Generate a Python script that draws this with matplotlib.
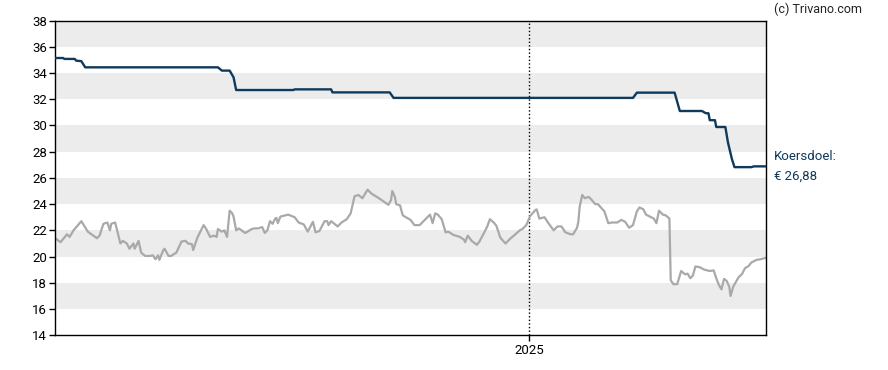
import matplotlib
matplotlib.use("Agg")
import matplotlib.pyplot as plt
import matplotlib.dates as mdates
import pandas as pd
import numpy as np

plt.rcParams['font.family'] = ['Roboto', 'DejaVu Sans']

start_date = "2024-01-03"
span_days = 546
year_tick = "2025-01-01"
year_label = "2025"

# Share price: day offsets from start_date and closing values (EUR)
price_days = [0, 4, 9, 11, 14, 20, 25, 32, 34, 37, 40, 42, 43, 46, 50, 52, 55, 57, 60, 61,
              64, 66, 69, 73, 75, 77, 79, 80, 83, 84, 87, 89, 93, 97, 100, 102, 105, 106, 109, 111,
              114, 116, 119, 122, 124, 125, 128, 130, 132, 134, 136, 137, 139, 141, 146, 151, 153, 156, 159, 161,
              163, 165, 167, 169, 170, 171, 173, 179, 184, 187, 191, 194, 198, 200, 203, 207, 209, 210, 212, 217,
              220, 224, 227, 230, 233, 236, 240, 243, 248, 253, 256, 258, 259, 261, 262, 265, 267, 270, 273, 276,
              280, 284, 288, 290, 292, 294, 297, 300, 302, 306, 311, 314, 315, 317, 320, 324, 326, 330, 332, 334,
              337, 339, 342, 346, 350, 353, 357, 359, 362, 365, 369, 370, 372, 376, 379, 383, 386, 389, 392, 396,
              398, 401, 402, 403, 405, 407, 410, 412, 415, 417, 422, 425, 428, 432, 435, 438, 441, 444, 447, 449,
              452, 454, 457, 460, 462, 464, 467, 469, 472, 473, 475, 478, 481, 484, 486, 488, 490, 492, 495, 499,
              503, 506, 508, 510, 512, 514, 516, 518, 519, 521, 525, 528, 530, 533, 535, 539, 542, 546]
price_vals = [21.4, 21.1, 21.7, 21.5, 22.0, 22.7, 21.9, 21.4, 21.6, 22.5, 22.6, 22.0, 22.5, 22.6, 21.0, 21.2, 21.0, 20.6, 21.0, 20.6,
              21.2, 20.3, 20.05, 20.05, 20.1, 19.8, 20.1, 19.75, 20.5, 20.6, 20.05, 20.05, 20.3, 21.15, 21.2, 21.0, 20.95, 20.5, 21.4, 21.8,
              22.4, 22.1, 21.5, 21.6, 21.5, 22.1, 21.9, 22.0, 21.5, 23.5, 23.3, 23.05, 22.0, 22.15, 21.8, 22.1, 22.15, 22.15, 22.25, 21.8,
              22.0, 22.7, 22.5, 22.9, 22.95, 22.55, 23.05, 23.2, 23.0, 22.6, 22.45, 21.9, 22.65, 21.85, 21.95, 22.7, 22.7, 22.4, 22.7, 22.3,
              22.6, 22.85, 23.3, 24.6, 24.7, 24.45, 25.1, 24.8, 24.5, 24.15, 23.95, 24.3, 25.0, 24.55, 24.0, 23.9, 23.15, 22.97, 22.8, 22.4,
              22.4, 22.8, 23.2, 22.55, 23.3, 23.2, 22.85, 21.85, 21.9, 21.65, 21.5, 21.3, 21.1, 21.6, 21.2, 20.9, 21.15, 21.9, 22.3, 22.85,
              22.6, 22.35, 21.45, 21.0, 21.4, 21.65, 22.0, 22.1, 22.4, 23.1, 23.55, 23.6, 22.9, 23.0, 22.55, 22.0, 22.3, 22.3, 21.85, 21.7,
              21.7, 22.2, 22.65, 23.8, 24.7, 24.45, 24.55, 24.35, 24.0, 24.0, 23.45, 22.55, 22.6, 22.6, 22.8, 22.65, 22.2, 22.4, 23.45, 23.75,
              23.6, 23.2, 23.05, 22.9, 22.55, 23.5, 23.2, 23.15, 22.9, 18.2, 17.9, 17.9, 18.9, 18.65, 18.7, 18.35, 18.55, 19.25, 19.2, 19.0,
              18.9, 18.95, 18.35, 17.85, 17.5, 18.3, 18.15, 17.7, 17.0, 17.7, 18.4, 18.7, 19.1, 19.3, 19.55, 19.75, 19.8, 19.9]

# Analyst price target (Koersdoel)
target_days = [0, 6, 7, 15, 16, 20, 23, 125, 128, 134, 137, 139, 183, 184, 212, 213, 257, 260, 444, 447,
               476, 480, 497, 500, 502, 503, 507, 508, 515, 517, 520, 522, 535, 537, 546]
target_vals = [35.14, 35.14, 35.07, 35.07, 34.94, 34.9, 34.43, 34.43, 34.18, 34.18, 33.67, 32.7, 32.7, 32.75, 32.75, 32.52, 32.52, 32.1, 32.1, 32.5,
               32.5, 31.1, 31.1, 30.93, 30.93, 30.4, 30.4, 29.88, 29.88, 28.7, 27.45, 26.82, 26.82, 26.88, 26.88]

y_ticks = list(range(14, 39, 2))
band_ranges = [(16, 18), (20, 22), (24, 26), (28, 30), (32, 34), (36, 38)]

target_label = "Koersdoel:\n€ 26,88"
credit = "(c) Trivano.com"

t0 = pd.Timestamp(start_date)
price_x = [t0 + pd.Timedelta(days=d) for d in price_days]
target_x = [t0 + pd.Timedelta(days=d) for d in target_days]
t_end = t0 + pd.Timedelta(days=span_days)
t_year = pd.Timestamp(year_tick)

fig = plt.figure(figsize=(8.88, 3.70), dpi=100)
ax = fig.add_axes([55.3 / 888, 1 - 335.3 / 370, 710.4 / 888, 314.8 / 370])

for lo, hi in band_ranges:
    ax.axhspan(lo, hi, color='#ececec', lw=0, zorder=0)

ax.axvline(t_year, color='black', lw=1.0, linestyle=(0, (1, 1.6)), zorder=1)

ax.plot(price_x, price_vals, color='#a9a9a9', lw=1.6, zorder=2, solid_joinstyle='round')
ax.plot(target_x, target_vals, color='#0f3a5c', lw=1.7, zorder=3, solid_joinstyle='round')

ax.set_xlim(t0, t_end)
ax.set_ylim(14, 38)
ax.set_yticks(y_ticks)
ax.set_yticklabels([str(v) for v in y_ticks])
ax.set_xticks([t_year])
ax.set_xticklabels([year_label])

for s in ax.spines.values():
    s.set_color('black')
    s.set_linewidth(1.0)

ax.tick_params(axis='y', length=4, width=1, labelsize=9.5, pad=2, colors='black')
ax.tick_params(axis='x', length=4, width=1, labelsize=9.5, pad=2, colors='black')

fig.text(774 / 888, 1 - 9 / 370, credit, fontsize=9, color='#222222', ha='left', va='center')
ax.text(1.012, 26.88, target_label, transform=ax.get_yaxis_transform(), fontsize=9.5,
        color='#0f3a5c', ha='left', va='center', linespacing=1.6)

fig.savefig('out.png', dpi=100)
